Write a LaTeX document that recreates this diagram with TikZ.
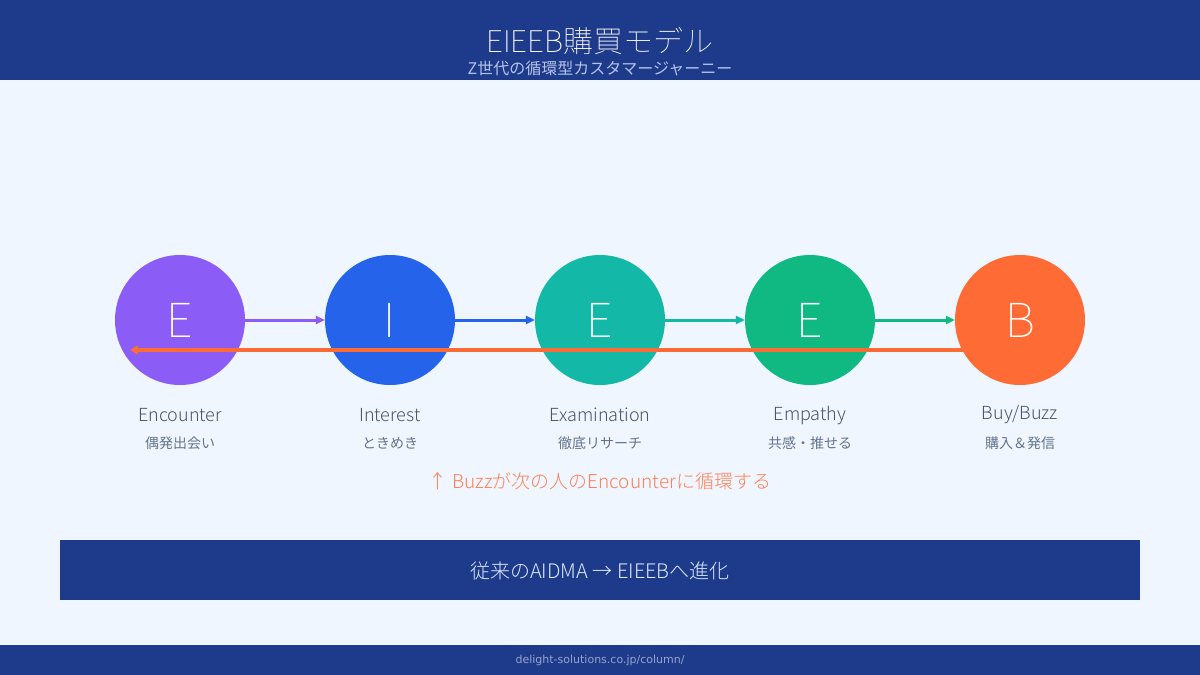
\documentclass[tikz,border=0pt]{standalone}
\usepackage{fontspec}
\setmainfont{Noto Sans CJK JP}
\newfontfamily\lightf{Noto Sans CJK JP Light}
\newfontfamily\thinf{Noto Sans CJK JP Thin}
\newfontfamily\footf{DejaVu Sans}
\usetikzlibrary{arrows.meta}
\definecolor{navy}{HTML}{1E3A8A}
\definecolor{bgc}{HTML}{EFF6FF}
\definecolor{cpurple}{HTML}{8B5CF6}
\definecolor{cblue}{HTML}{2563EB}
\definecolor{cteal}{HTML}{14B8A6}
\definecolor{cgreen}{HTML}{10B981}
\definecolor{corange}{HTML}{FF6B35}
\definecolor{subc}{RGB}{180,195,235}
\definecolor{labc}{HTML}{475569}
\definecolor{jlabc}{HTML}{64748B}
\definecolor{footc}{RGB}{150,165,205}
\definecolor{boxtext}{HTML}{DBEAFE}
\tikzset{
  stage/.style={circle, minimum size=130pt, inner sep=0pt, text=white, font=\thinf\fontsize{47}{50}\selectfont},
  enlab/.style={text=labc, font=\lightf\fontsize{18}{22}\selectfont},
  jplab/.style={text=jlabc, font=\fontsize{14}{17}\selectfont},
  flow/.style={line width=3pt, -{Triangle[length=9pt,width=8pt]}},
}
\begin{document}
\begin{tikzpicture}[x=1pt,y=-1pt]
\useasboundingbox (0,0) rectangle (1200,675);
\fill[bgc] (0,0) rectangle (1200,675);
\fill[navy] (0,0) rectangle (1200,80);
\fill[navy] (0,645) rectangle (1200,675);
\node[text=white, font=\thinf\fontsize{30}{36}\selectfont] (title) at (600,41) {EIEEB購買モデル};
\node[text=subc, font=\fontsize{16}{19}\selectfont] (subtitle) at (600,68) {Z世代の循環型カスタマージャーニー};

\node[stage, fill=cpurple] (c1) at (180,320) {E};
\node[stage, fill=cblue] (c2) at (390,320) {I};
\node[stage, fill=cteal] (c3) at (600,320) {E};
\node[stage, fill=cgreen] (c4) at (810,320) {E};

\coordinate (rs) at (990,350);
\coordinate (re) at (130,350);
\draw[corange, line width=4pt, -{Triangle[length=8pt,width=9pt]}] (rs) -- (re);

\node[stage, fill=corange] (c5) at (1020,320) {B};

\draw[flow, cpurple] (c1.east) -- (c2.west);
\draw[flow, cblue] (c2.east) -- (c3.west);
\draw[flow, cteal] (c3.east) -- (c4.west);
\draw[flow, cgreen] (c4.east) -- (c5.west);

\node[enlab] (l1) at (180,415) {Encounter};
\node[enlab] (l2) at (390,415) {Interest};
\node[enlab] (l3) at (600,415) {Examination};
\node[enlab] (l4) at (810,415) {Empathy};
\node[enlab] (l5) at (1020,415) {Buy/Buzz};
\node[jplab] (j1) at (180,443) {偶発出会い};
\node[jplab] (j2) at (390,443) {ときめき};
\node[jplab] (j3) at (600,443) {徹底リサーチ};
\node[jplab] (j4) at (810,443) {共感・推せる};
\node[jplab] (j5) at (1020,443) {購入＆発信};

\node[text=corange!85!white, font=\lightf\fontsize{19}{23}\selectfont] (note) at (600,481) {↑ Buzzが次の人のEncounterに循環する};

\node[fill=navy, minimum width=1080pt, minimum height=60pt, inner sep=0pt] (box) at (600,570) {};
\node[text=boxtext, font=\lightf\fontsize{20}{24}\selectfont] (boxt) at (600,571) {従来のAIDMA → EIEEBへ進化};

\node[text=footc, font=\footf\fontsize{11}{13}\selectfont] (foot) at (600,660) {delight-solutions.co.jp/column/};
\end{tikzpicture}
\end{document}
